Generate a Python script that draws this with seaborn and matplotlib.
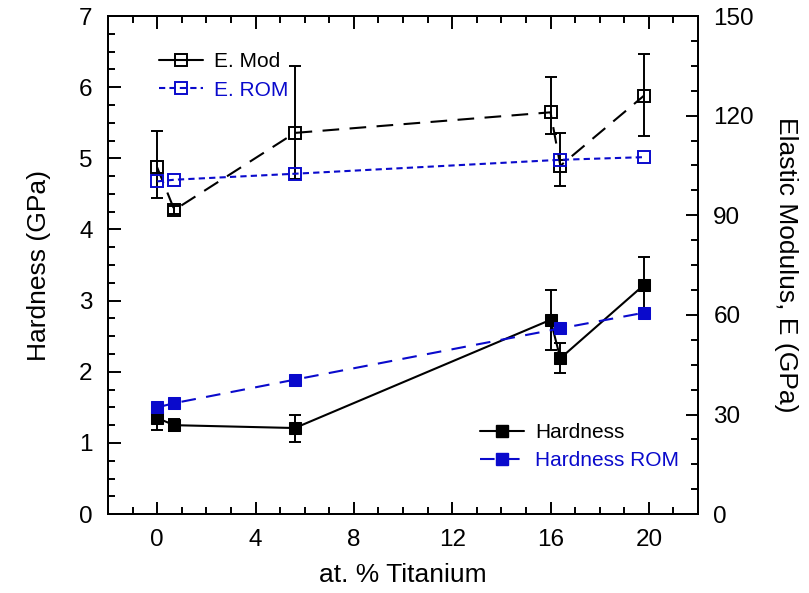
import numpy as np
import pandas as pd
import seaborn as sns
import matplotlib.pyplot as plt
from matplotlib.ticker import MultipleLocator
from matplotlib.lines import Line2D

# at. % Ti for measured samples and for rule-of-mixtures estimates
ti = [0.0, 0.7, 5.6, 16.0, 16.4, 19.8]
ti_rom = [0.0, 0.7, 5.6, 16.4, 19.8]

hardness = [1.35, 1.25, 1.21, 2.73, 2.19, 3.22]
hardness_err = [0.17, 0.08, 0.19, 0.42, 0.21, 0.39]
hardness_rom = [1.50, 1.56, 1.89, 2.61, 2.83]

emod = [104.4, 91.6, 114.8, 121.0, 104.9, 126.0]
emod_err_lo = [9.3, 1.2, 14.0, 6.5, 6.0, 12.0]
emod_err_hi = [11.0, 1.2, 20.0, 10.5, 10.0, 12.5]
emod_rom = [100.2, 100.7, 102.5, 106.7, 107.5]

blue = "#0a0acc"

sns.set_theme(style="ticks")
plt.rcParams["font.family"] = ["Liberation Sans", "DejaVu Sans"]

df_h = pd.DataFrame({"ti": ti, "h": hardness})
df_hr = pd.DataFrame({"ti": ti_rom, "h": hardness_rom})
df_e = pd.DataFrame({"ti": ti, "e": emod})
df_er = pd.DataFrame({"ti": ti_rom, "e": emod_rom})

fig = plt.figure(figsize=(8.09, 5.93), dpi=100)
ax = fig.add_axes([0.1335, 0.133, 0.7293, 0.840])
ax2 = ax.twinx()

# hardness (left axis)
ax.errorbar(ti, hardness, yerr=hardness_err, fmt="none", ecolor="black",
            elinewidth=1.4, capsize=4.5, capthick=1.4, zorder=2)
sns.lineplot(data=df_h, x="ti", y="h", ax=ax, color="black", lw=1.5,
             marker="s", markersize=9, markeredgecolor="black",
             markerfacecolor="black", estimator=None, sort=False, zorder=3)
sns.lineplot(data=df_hr, x="ti", y="h", ax=ax, color=blue, lw=1.5,
             marker="s", markersize=9, markeredgecolor=blue,
             markerfacecolor=blue, dashes=False, estimator=None, sort=False,
             linestyle=(0, (7, 5)), zorder=4)

# elastic modulus (right axis)
ax2.errorbar(ti, emod, yerr=[emod_err_lo, emod_err_hi], fmt="none",
             ecolor="black", elinewidth=1.4, capsize=4.5, capthick=1.4, zorder=2)
sns.lineplot(data=df_e, x="ti", y="e", ax=ax2, color="black", lw=1.5,
             marker="s", markersize=8.5, markeredgecolor="black",
             markeredgewidth=1.4, markerfacecolor="none", estimator=None,
             sort=False, linestyle=(0, (8, 5)), zorder=3)
sns.lineplot(data=df_er, x="ti", y="e", ax=ax2, color=blue, lw=1.5,
             marker="s", markersize=8.5, markeredgecolor=blue,
             markeredgewidth=1.4, markerfacecolor="none", estimator=None,
             sort=False, linestyle=(0, (3, 2)), zorder=4)

ax.set_xlim(-2, 22)
ax.set_ylim(0, 7)
ax2.set_ylim(0, 150)

ax.xaxis.set_major_locator(MultipleLocator(4))
ax.xaxis.set_minor_locator(MultipleLocator(1))
ax.yaxis.set_major_locator(MultipleLocator(1))
ax.yaxis.set_minor_locator(MultipleLocator(0.25))
ax2.yaxis.set_major_locator(MultipleLocator(30))
ax2.yaxis.set_minor_locator(MultipleLocator(7.5))

ax.tick_params(axis="x", which="both", direction="in", top=True,
               labelsize=17.5, pad=11, width=1.4, colors="black")
ax.tick_params(axis="y", which="both", direction="in", right=False,
               labelsize=17.5, pad=11, width=1.4, colors="black")
ax2.tick_params(axis="y", which="both", direction="in", labelsize=17.5,
                pad=11, width=1.4, colors="black")
for a in (ax, ax2):
    a.tick_params(which="major", length=9)
    a.tick_params(which="minor", length=5)
    for s in a.spines.values():
        s.set_linewidth(1.4)
        s.set_color("black")

ax.set_xlabel("at. % Titanium", fontsize=19, labelpad=8, color="black")
ax.set_ylabel("Hardness (GPa)", fontsize=19, labelpad=20, color="black")
ax2.set_ylabel("Elastic Modulus, E (GPa)", fontsize=19, rotation=270,
               labelpad=32, color="black")

# legends
h_emod = Line2D([], [], color="black", lw=1.5, marker="s", markersize=8.5,
                markerfacecolor="none", markeredgewidth=1.4)
h_erom = Line2D([], [], color=blue, lw=1.5, marker="s", markersize=8.5,
                markerfacecolor="none", markeredgewidth=1.4,
                linestyle=(0, (3, 2)))
leg1 = ax2.legend([h_emod, h_erom], ["E. Mod", "E. ROM"], loc="upper left",
                  bbox_to_anchor=(0.055, 0.965), frameon=False, fontsize=15,
                  handlelength=2.1, handletextpad=0.55, labelspacing=0.45,
                  labelcolor=["black", blue])
ax2.add_artist(leg1)

h_hard = Line2D([], [], color="black", lw=1.5, marker="s", markersize=9)
h_hrom = Line2D([], [], color=blue, lw=1.5, marker="s", markersize=9,
                linestyle=(0, (7, 5)))
ax2.legend([h_hard, h_hrom], ["Hardness", "Hardness ROM"], loc="lower right",
           bbox_to_anchor=(1.0, 0.05), frameon=False, fontsize=15,
           handlelength=2.1, handletextpad=0.55, labelspacing=0.45,
           labelcolor=["black", blue])

ax.set_zorder(ax2.get_zorder() + 1)
ax.patch.set_visible(False)

fig.savefig("out.png", dpi=100)
